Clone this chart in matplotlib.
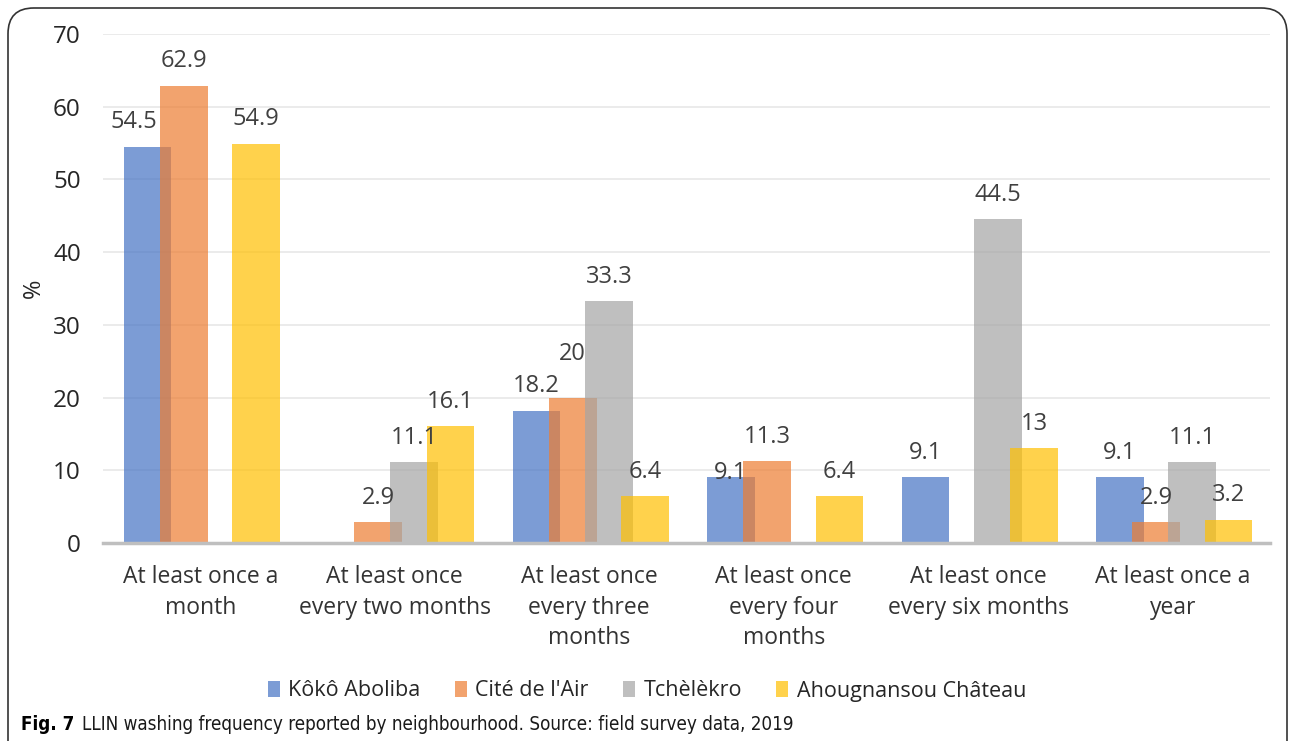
"""LLIN washing frequency by neighbourhood (Fig. 7)."""
import numpy as np
import matplotlib.pyplot as plt
from matplotlib.patches import FancyBboxPatch, Patch

categories = [
    "At least once a\nmonth",
    "At least once\nevery two months",
    "At least once\nevery three\nmonths",
    "At least once\nevery four\nmonths",
    "At least once\nevery six months",
    "At least once a\nyear",
]
series = ["Kôkô Aboliba", "Cité de l'Air", "Tchèlèkro", "Ahougnansou Château"]
koko = [54.5, 0, 18.2, 9.1, 9.1, 9.1]
cite = [62.9, 2.9, 20, 11.3, 0, 2.9]
tchelekro = [0, 11.1, 33.3, 0, 44.5, 11.1]
ahougnansou = [54.9, 16.1, 6.4, 6.4, 13, 3.2]
yticks = [0, 10, 20, 30, 40, 50, 60, 70]

colors = ["#4472C4", "#ED7D31", "#A5A5A5", "#FFC000"]
# label nudges (series, category) -> (dx, dy) in points, as in the original layout
nudges = {(0, 0): (-10, 0), (1, 2): (0, 14), (0, 3): (0, -14.5)}

plt.rcParams["font.family"] = ["Open Sans", "DejaVu Sans"]

fig = plt.figure(figsize=(12.9, 7.41), dpi=100)
ax = fig.add_axes([103 / 1290, 1 - 543 / 741, 1167 / 1290, (543 - 34) / 741])

x = np.arange(len(categories))
width = 0.246
step = 0.186
values = [koko, cite, tchelekro, ahougnansou]
for k, (name, vals, c) in enumerate(zip(series, values, colors)):
    pos = x + (k - 1.5) * step + 0.008
    ax.bar(pos, vals, width=width, color=c, alpha=0.7, linewidth=0,
           label=name, zorder=2 + k)
    for i, v in enumerate(vals):
        if v == 0:
            continue
        dx, dy = nudges.get((k, i), (0, 0))
        ax.annotate(f"{v:g}", (pos[i], v), xytext=(dx, 17.5 + dy),
                    textcoords="offset points", ha="center", va="center",
                    fontsize=17, color="#404040", zorder=10)

ax.set_xlim(-0.5, len(categories) - 0.5)
ax.set_ylim(0, 70)
ax.set_yticks(yticks)
ax.set_xticks(x)
ax.set_xticklabels(categories, fontsize=16.5, color="#333333", linespacing=1.35)
ax.tick_params(axis="y", length=0, labelsize=17.5, labelcolor="#262626", pad=16)
ax.tick_params(axis="x", length=0, pad=16)
ax.grid(axis="y", color="#E8E8E8", linewidth=1.2, zorder=0)
ax.set_axisbelow(True)
for s in ["top", "right", "left"]:
    ax.spines[s].set_visible(False)
ax.spines["bottom"].set_color("#BFBFBF")
ax.spines["bottom"].set_linewidth(2.5)
ax.spines["bottom"].set_zorder(20)
ax.set_ylabel("%", fontsize=17, color="#262626")
ax.yaxis.set_label_coords(-0.049, 0.5)

handles = [Patch(facecolor=c, alpha=0.7, linewidth=0) for c in colors]
fig.legend(handles, series, loc="center", bbox_to_anchor=(647 / 1290, 1 - 691 / 741),
           ncol=4, frameon=False, fontsize=15.5, handlelength=0.55, handleheight=0.75,
           handletextpad=0.4, columnspacing=1.6, labelcolor="#262626")

# caption
fig.text(21 / 1290, 1 - 724 / 741, "Fig. 7", fontsize=13.5, fontweight="bold",
         family="DejaVu Sans", fontstretch="condensed", va="center", ha="left")
fig.text(82 / 1290, 1 - 724 / 741,
         "LLIN washing frequency reported by neighbourhood. Source: field survey data, 2019",
         fontsize=13.5, family="DejaVu Sans", fontstretch="condensed",
         va="center", ha="left", color="#1a1a1a")

# rounded frame around the figure
frame = FancyBboxPatch((8 / 1290, -0.1), 1279 / 1290, 1.1 - 8 / 741,
                       boxstyle="round,pad=0,rounding_size=0.02",
                       transform=fig.transFigure, facecolor="none",
                       edgecolor="#333333", linewidth=1.2, mutation_aspect=1290 / 741)
fig.patches.append(frame)

fig.savefig("out.png", dpi=100)
